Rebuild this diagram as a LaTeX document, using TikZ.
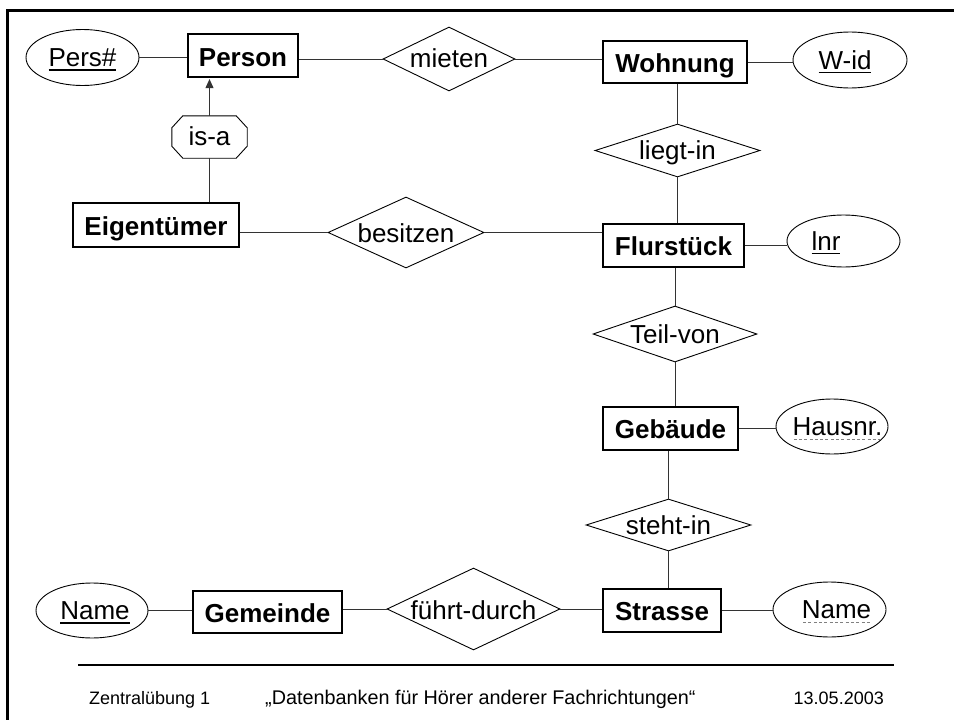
\documentclass[tikz,border=0pt]{standalone}
\usepackage{fontspec}
\setmainfont{Liberation Sans}
\usetikzlibrary{shapes.geometric,arrows.meta}
\newcommand\ctext[2][9pt]{\smash{\makebox[0pt]{\raisebox{-#1}{#2}}}}
\newcommand\keyline[1]{\setbox0=\hbox{#1}\vtop{\offinterlineskip\copy0\kern2.5pt\hrule height 1.5pt}}
\newcommand\partkey[1]{\setbox0=\hbox{#1}\vtop{\offinterlineskip\copy0\kern3pt\hbox to\wd0{\color{gray}\xleaders\hbox to 5pt{\hss\vrule height 1pt depth 0pt width 3pt\hss}\hfil}}}
\tikzset{
  base/.style={inner sep=0pt, font=\fontsize{26}{30}\selectfont},
  ent/.style={base, draw, line width=1.2pt, rectangle, font=\fontsize{26}{30}\selectfont\bfseries},
  rel/.style={base, draw, line width=0.9pt, diamond},
  attr/.style={base, draw, line width=0.9pt, ellipse},
  conn/.style={line width=0.9pt, draw=black!80},
  foot/.style={inner sep=0pt, font=\fontsize{18}{22}\selectfont},
}
\begin{document}
\begin{tikzpicture}[x=1pt,y=-1pt]
\useasboundingbox (0,0) rectangle (954,720);
% frame
\draw[line width=3pt] (7,720) -- (7,10) -- (954,10);
% nodes
\node[attr, minimum width=113pt, minimum height=56pt] (pers) at (82.5,57.5) {\ctext{\keyline{Pers\#}}};
\node[ent, minimum width=110pt, minimum height=43pt] (person) at (243,55.5) {\ctext[10.5pt]{Person}};
\node[rel, minimum width=132pt, minimum height=64pt] (mieten) at (449,59) {\ctext{mieten}};
\node[ent, minimum width=144pt, minimum height=42pt] (wohnung) at (675,62) {\ctext[10pt]{Wohnung}};
\node[attr, minimum width=114pt, minimum height=56pt] (wid) at (850,60) {\ctext{\hspace*{-10pt}\keyline{W-id}}};
\node[base, minimum width=75pt, minimum height=42pt] (isa) at (209.5,137) {\ctext[8pt]{is-a}};
\node[ent, minimum width=166pt, minimum height=44pt] (eig) at (156,225) {\ctext[10pt]{Eigentümer}};
\node[rel, minimum width=156pt, minimum height=71pt] (besitzen) at (406,232.5) {\ctext[9.5pt]{besitzen}};
\node[rel, minimum width=165pt, minimum height=53pt] (liegt) at (677.5,150.5) {\ctext{liegt-in}};
\node[ent, minimum width=141pt, minimum height=43pt] (flur) at (673.5,245.5) {\ctext[10pt]{Flurstück}};
\node[attr, minimum width=113pt, minimum height=52pt] (lnr) at (843.5,241) {\ctext{\hspace*{-35pt}\keyline{lnr}}};
\node[rel, minimum width=164pt, minimum height=56pt] (teil) at (675,334) {\ctext{Teil-von}};
\node[ent, minimum width=135pt, minimum height=43pt] (geb) at (670.5,428.5) {\ctext[10pt]{Gebäude}};
\node[attr, minimum width=112pt, minimum height=55pt] (haus) at (832,426.5) {\ctext{\hspace*{11pt}\partkey{Hausnr.}}};
\node[rel, minimum width=165pt, minimum height=52pt] (steht) at (668.5,525) {\ctext{steht-in}};
\node[ent, minimum width=118pt, minimum height=43pt] (strasse) at (662,610.5) {\ctext[10pt]{Strasse}};
\node[attr, minimum width=113pt, minimum height=55pt] (sname) at (829.5,609.5) {\ctext{\hspace*{14pt}\partkey{Name}}};
\node[rel, minimum width=173pt, minimum height=82pt] (fuehrt) at (473.5,609) {\ctext[10pt]{führt-durch}};
\node[ent, minimum width=149pt, minimum height=42pt] (gem) at (267.5,612) {\ctext[10pt]{Gemeinde}};
\node[attr, minimum width=112pt, minimum height=55pt] (gname) at (92,610.5) {\ctext{\hspace*{6pt}\keyline{Name}}};
% is-a octagon
\draw[line width=0.9pt] ([xshift=11pt]isa.north west) -- ([xshift=-11pt]isa.north east)
  -- ([yshift=-12pt]isa.north east) -- ([yshift=12pt]isa.south east)
  -- ([xshift=-11pt]isa.south east) -- ([xshift=11pt]isa.south west)
  -- ([yshift=12pt]isa.south west) -- ([yshift=-12pt]isa.north west) -- cycle;
% connectors
\draw[conn] (pers) -- (pers -| person.west);
\draw[conn] (mieten.west) -- (mieten.west -| person.east);
\draw[conn] (mieten.east) -- (mieten.east -| wohnung.west);
\draw[conn] (wohnung.east) -- (wohnung.east -| wid.west);
\draw[conn, -{Triangle[length=9pt,width=8pt]}, shorten >=1.5pt] (isa.north) -- (isa.north |- person.south);
\draw[conn] (isa.south) -- (isa.south |- eig.north);
\draw[conn] (besitzen.west) -- (besitzen.west -| eig.east);
\draw[conn] (besitzen.east) -- (besitzen.east -| flur.west);
\draw[conn] (liegt.north) -- (liegt.north |- wohnung.south);
\draw[conn] (liegt.south) -- (liegt.south |- flur.north);
\draw[conn] (flur.east) -- (flur.east -| lnr.west);
\draw[conn] (teil.north) -- (teil.north |- flur.south);
\draw[conn] (teil.south) -- (teil.south |- geb.north);
\draw[conn] (geb.east) -- (geb.east -| haus.west);
\draw[conn] (steht.north) -- (steht.north |- geb.south);
\draw[conn] (steht.south) -- (steht.south |- strasse.north);
\draw[conn] (strasse.east) -- (strasse.east -| sname.west);
\draw[conn] (fuehrt.east) -- (fuehrt.east -| strasse.west);
\draw[conn] (fuehrt.west) -- (fuehrt.west -| gem.east);
\draw[conn] (gname.east) -- (gname.east -| gem.west);
% footer
\draw[line width=1.3pt] (78,665) -- (894,665);
\node[foot, anchor=base west] (f1) at (89,704) {Zentralübung 1};
\node[foot, anchor=base west, font=\fontsize{19.8}{23}\selectfont] (f2) at (265,704) {„Datenbanken für Hörer anderer Fachrichtungen“};
\node[foot, anchor=base east] (f3) at (884,704) {13.05.2003};
\end{tikzpicture}
\end{document}
